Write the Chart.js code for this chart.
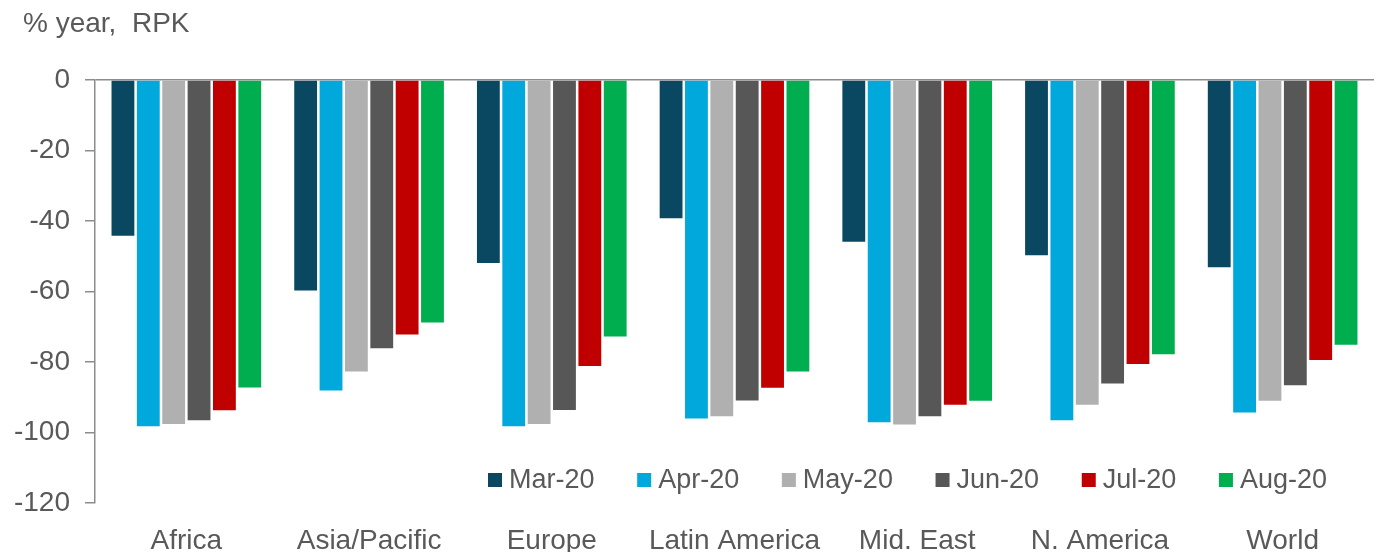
<!DOCTYPE html>
<html>
<head>
<meta charset="utf-8">
<script src="https://cdn.jsdelivr.net/npm/chart.js@4/dist/chart.umd.min.js"></script>
<style>
  html, body { margin: 0; padding: 0; background: #fff; }
  #wrap { width: 1374px; height: 552px; position: relative; }
</style>
</head>
<body>
<div id="wrap"><canvas id="rpk-chart"></canvas></div>
<script>
const regions = ['Africa', 'Asia/Pacific', 'Europe', 'Latin America', 'Mid. East', 'N. America', 'World'];
const months = ['Mar-20', 'Apr-20', 'May-20', 'Jun-20', 'Jul-20', 'Aug-20'];

const mar20 = [-44.2, -59.7, -51.9, -39.2, -45.9, -49.7, -53.1];
const apr20 = [-98.2, -88.1, -98.2, -96.0, -97.1, -96.5, -94.3];
const may20 = [-97.6, -82.7, -97.6, -95.4, -97.7, -92.1, -91.0];
const jun20 = [-96.5, -76.1, -93.6, -90.9, -95.4, -86.1, -86.6];
const jul20 = [-93.7, -72.2, -81.1, -87.3, -92.1, -80.6, -79.4];
const aug20 = [-87.2, -68.8, -72.8, -82.7, -91.0, -77.8, -75.1];

const yTicks = [0, -20, -40, -60, -80, -100, -120];

const seriesValues = [mar20, apr20, may20, jun20, jul20, aug20];
const colors = ['#0a4862', '#00a8db', '#b0b0b0', '#575757', '#c00000', '#00ad4f'];

const textColor = '#595959';
const axisColor = '#8c8c8c';
const fontFamily = '"Liberation Sans", Arial, sans-serif';

// title in the top-left corner and the legend inside the plot, bottom right
const overlay = {
  id: 'overlay',
  afterDraw(chart) {
    const ctx = chart.ctx;
    ctx.save();
    ctx.font = '28px ' + fontFamily;
    ctx.fillStyle = textColor;
    ctx.textBaseline = 'middle';
    ctx.textAlign = 'left';
    ctx.fillText('% year,  RPK', 23, 24);

    ctx.font = '27px ' + fontFamily;
    const box = 14, gapText = 7, startX = 488, endX = 1327, y = 480;
    const widths = chart.data.datasets.map(ds => ctx.measureText(ds.label).width);
    const used = widths.reduce((a, w) => a + box + gapText + w, 0);
    const gap = (endX - startX - used) / (widths.length - 1);
    let x = startX;
    chart.data.datasets.forEach((ds, i) => {
      ctx.fillStyle = ds.backgroundColor;
      ctx.fillRect(x, y - box / 2, box, box);
      ctx.fillStyle = textColor;
      ctx.fillText(ds.label, x + box + gapText, y + 1);
      x += box + gapText + widths[i] + gap;
    });
    ctx.restore();
  }
};

new Chart(document.getElementById('rpk-chart').getContext('2d'), {
  type: 'bar',
  data: {
    labels: regions,
    datasets: months.map((m, i) => ({
      label: m,
      data: seriesValues[i],
      backgroundColor: colors[i],
      borderWidth: 0,
      categoryPercentage: 0.833,
      barPercentage: 0.9
    }))
  },
  options: {
    responsive: true,
    maintainAspectRatio: false,
    animation: false,
    layout: { padding: { top: 80, left: 0, right: 0, bottom: 0 } },
    plugins: {
      legend: { display: false },
      tooltip: { enabled: false }
    },
    scales: {
      x: {
        grid: { display: false },
        border: { display: false },
        ticks: {
          color: textColor,
          font: { family: fontFamily, size: 28 },
          padding: 13,
          maxRotation: 0,
          autoSkip: false
        },
        afterFit(scale) { scale.height = 49; }
      },
      y: {
        min: -120,
        max: 0,
        afterBuildTicks(scale) { scale.ticks = yTicks.map(v => ({ value: v })); },
        border: { display: true, color: axisColor, width: 1.5 },
        grid: {
          drawOnChartArea: true,
          color: c => (c.tick && c.tick.value === 0 ? axisColor : 'rgba(0,0,0,0)'),
          lineWidth: 1.5,
          tickColor: axisColor,
          tickLength: 10
        },
        ticks: {
          color: textColor,
          font: { family: fontFamily, size: 28 },
          padding: 15
        },
        afterFit(scale) { scale.width = 95; }
      }
    }
  },
  plugins: [overlay]
});
</script>
</body>
</html>
